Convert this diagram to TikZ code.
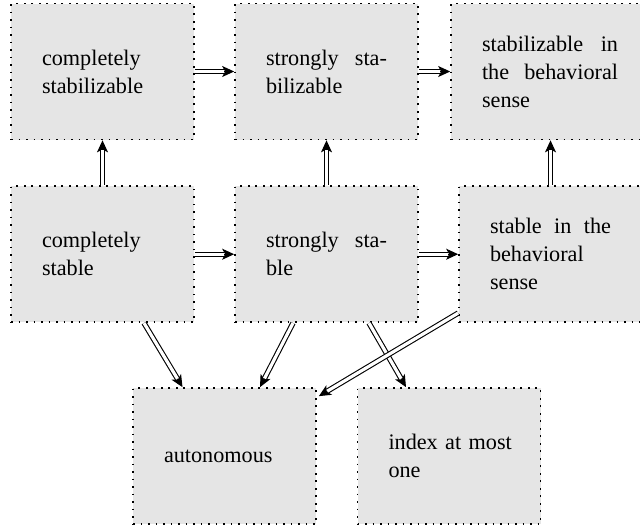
\documentclass[tikz,border=0pt]{standalone}
\usepackage{fontspec}
\setmainfont{Liberation Serif}
\usetikzlibrary{arrows.meta,calc}
\begin{document}
\begin{tikzpicture}[x=0.5pt,y=-0.5pt,
  cell/.style={draw, fill=black!10, line width=0.85pt, dash pattern=on 0.85pt off 2.9pt,
    minimum height=68pt, inner xsep=15.5pt, inner ysep=0pt, text width=60.5pt, align=left,
    font=\fontsize{11.1}{14}\selectfont},
  tipline/.style={line width=0.55pt, -{Stealth[length=6pt,width=5.5pt,inset=1.5pt]}},
  dblline/.style={double, double distance=1.6pt, line width=0.55pt, shorten >=4.9pt}]
\useasboundingbox (0,0) rectangle (640,531);
\node[cell] (A) at (102.5,71.5) {completely\\stabilizable};
\node[cell] (B) at (326.5,71.5) {strongly\hfill sta-\\bilizable};
\node[cell, text width=68pt] (C) at (550,71.5) {stabilizable\hfill in\\the\hfill behavioral\\sense};
\node[cell] (D) at (102.5,254.2) {completely\\stable};
\node[cell] (E) at (326.5,254.2) {strongly\hfill sta-\\ble};
\node[cell] (F) at (550.5,254.2) {stable\hfill in\hfill the\\behavioral\\sense};
\node[cell] (G) at (224.5,456) {autonomous};
\node[cell] (H) at (449,456) {\mbox{index at most}\\one};
\coordinate (Ctop) at (F.north |- C.south);
\coordinate (d1) at ($(D.south)+(41.5,0)$);
\coordinate (g1) at ($(G.north)+(-42,0)$);
\coordinate (e1) at ($(E.south)+(-33.5,0)$);
\coordinate (g2) at ($(G.north)+(35.5,0)$);
\coordinate (e2) at ($(E.south)+(42.5,0)$);
\coordinate (h1) at ($(H.north)+(-43,0)$);
\coordinate (f1) at ($(F.south west)+(0,-10)$);
\coordinate (g3) at ($(G.north east)+(2,9)$);
\foreach \s/\t in {A.east/B.west, B.east/C.west, D.east/E.west, E.east/F.west,
    D.north/A.south, E.north/B.south, F.north/Ctop, d1/g1, e1/g2, e2/h1, f1/g3} {
  \draw[tipline] (\s) -- (\t);
  \draw[dblline] (\s) -- (\t);
}
\end{tikzpicture}
\end{document}
